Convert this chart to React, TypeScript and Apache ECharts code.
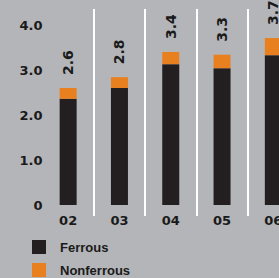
import React, { useEffect, useRef } from "react";
import * as echarts from "echarts";

const categories = ["02", "03", "04", "05", "06"];
const ferrous = [2.36, 2.6, 3.13, 3.04, 3.33];
const nonferrous = [0.24, 0.24, 0.27, 0.3, 0.38];
const totals = ["2.6", "2.8", "3.4", "3.3", "3.7"];
const yTicks = [0, 1, 2, 3, 4];

const DARK = "#231f20";
const ORANGE = "#e8801f";
const BG = "#b4b5b8";
const NUM_FONT = "DejaVu Sans";
const TXT_FONT = "Liberation Sans";

export default function App() {
  const ref = useRef<HTMLDivElement>(null);
  useEffect(() => {
    document.body.style.margin = "0";
    const chart = echarts.init(ref.current!, null, { renderer: "svg" });
    chart.setOption({
      animation: false,
      backgroundColor: BG,
      grid: [
        { left: 42.5, width: 256.5, top: 25, height: 180, outerBoundsMode: "none", containLabel: false },
        { left: 42.5, width: 256.5, top: 9, height: 207, outerBoundsMode: "none", containLabel: false },
      ],
      legend: {
        orient: "vertical",
        left: 32,
        top: 240,
        padding: 0,
        itemWidth: 14,
        itemHeight: 14,
        itemGap: 9,
        icon: "rect",
        data: ["Ferrous", "Nonferrous"],
        textStyle: {
          fontFamily: TXT_FONT,
          fontWeight: "bold",
          fontSize: 13,
          color: "#1a1a1a",
          padding: [0, 0, 0, 9],
        },
      },
      xAxis: [
        {
          type: "category",
          gridIndex: 0,
          data: categories,
          axisLine: { show: false },
          axisTick: { show: false },
          splitLine: { show: false },
          axisLabel: {
            margin: 9,
            fontFamily: NUM_FONT,
            fontWeight: "bold",
            fontSize: 13,
            color: "#1a1a1a",
          },
        },
        {
          type: "category",
          gridIndex: 1,
          data: categories,
          axisLine: { show: false },
          axisTick: { show: false },
          axisLabel: { show: false },
          splitLine: {
            show: true,
            showMinLine: false,
            showMaxLine: false,
            lineStyle: { color: "#ffffff", width: 2 },
          },
        },
      ],
      yAxis: [
        {
          type: "value",
          gridIndex: 0,
          min: 0,
          max: 4,
          interval: 1,
          axisLine: { show: false },
          axisTick: { show: false },
          splitLine: { show: false },
          axisLabel: {
            margin: 0,
            padding: [0, 0, 8, 0],
            fontFamily: NUM_FONT,
            fontWeight: "bold",
            fontSize: 13,
            color: "#1a1a1a",
            formatter: (v: number) =>
              yTicks.includes(v) ? (v === 0 ? "0" : v.toFixed(1)) : "",
          },
        },
        {
          type: "value",
          gridIndex: 1,
          show: false,
          min: 0,
          max: 1,
        },
      ],
      series: [
        {
          name: "Ferrous",
          type: "bar",
          stack: "total",
          xAxisIndex: 0,
          yAxisIndex: 0,
          barWidth: 17,
          itemStyle: { color: DARK },
          data: ferrous,
        },
        {
          name: "Nonferrous",
          type: "bar",
          stack: "total",
          xAxisIndex: 0,
          yAxisIndex: 0,
          barWidth: 17,
          itemStyle: { color: ORANGE },
          data: nonferrous,
          label: {
            show: true,
            position: "top",
            rotate: 90,
            align: "left",
            verticalAlign: "middle",
            distance: 13,
            fontFamily: NUM_FONT,
            fontWeight: "bold",
            fontSize: 14,
            color: "#1a1a1a",
            formatter: (p: any) => totals[p.dataIndex],
          },
        },
      ],
    });
    return () => chart.dispose();
  }, []);
  return <div ref={ref} style={{ width: 279, height: 278 }} />;
}
